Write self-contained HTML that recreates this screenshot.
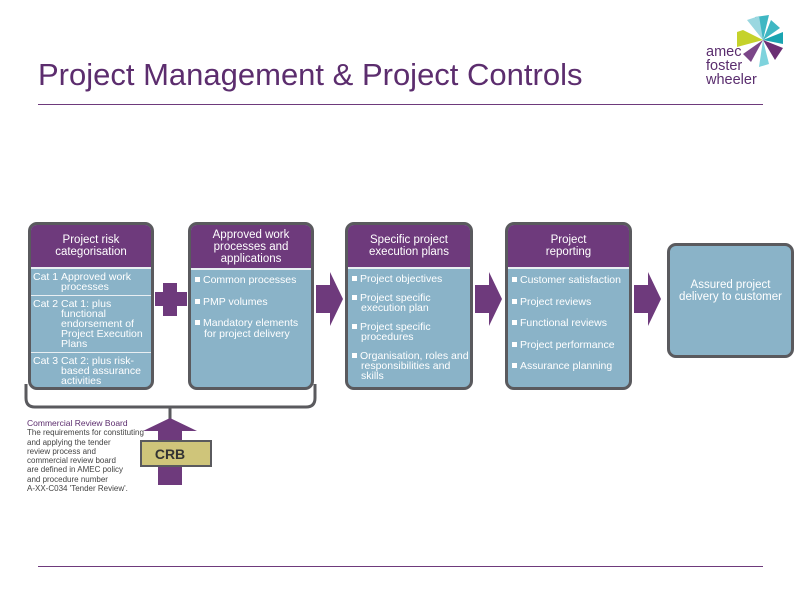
<!DOCTYPE html>
<html><head><style>
body{margin:0;width:800px;height:600px;background:#fff;position:relative;overflow:hidden;font-family:"Liberation Sans",sans-serif}
.t{position:absolute;left:38px;top:57px;font-size:31px;color:#5c2d6e;letter-spacing:0px}
.box{position:absolute;border:3px solid #5a5a5e;border-radius:9px;background:#8ab3c8;overflow:hidden;box-sizing:border-box;color:#fff}
.hd{background:#6e3a7c;color:#fff;text-align:center;font-size:11.5px;line-height:12px;border-bottom:2px solid #e8eef2;box-sizing:border-box;display:flex;align-items:center;justify-content:center}
.li{font-size:10.5px;line-height:10.5px;padding-left:4px;margin-top:0}
.li p{margin:0 0 11px 0;padding-left:9px;text-indent:-9px}
.li p:before{content:"";display:inline-block;width:5px;height:5px;background:#fff;margin-right:3px;vertical-align:1px}
.cat{display:flex;font-size:10.5px;line-height:10px;border-bottom:1px solid #e8eef2;padding:3px 2px}
.cat b{font-weight:normal;width:28px;flex:none}
</style></head><body>
<div class="t">Project Management &amp; Project Controls</div>
<div style="position:absolute;left:38px;top:104px;width:725px;height:1px;background:#6e3a7c"></div>
<div style="position:absolute;left:38px;top:566px;width:725px;height:1px;background:#6e3a7c"></div>
<svg style="position:absolute;left:725px;top:12px" width="60" height="60" viewBox="0 0 60 60">
<polygon points="38,28 18,18 12,20 12,35" fill="#c5d22b"/>
<polygon points="38,28 30,5 44,3" fill="#3fb7c3"/>
<polygon points="38,28 46,8 55,16" fill="#3fb7c3"/>
<polygon points="38,28 58,20 58,32" fill="#1aa4b1"/>
<polygon points="38,28 58,36 50,48" fill="#6b2f73"/>
<polygon points="38,28 44,52 34,55" fill="#7fd3dd"/>
<polygon points="38,28 26,50 18,42" fill="#7b4688"/>
<polygon points="38,28 22,8 34,4" fill="#9ad7e0"/>
</svg>
<div style="position:absolute;left:706px;top:45px;font-size:14.5px;line-height:14px;color:#5a2d6e">amec<br>foster<br>wheeler</div>

<div class="box" style="left:28px;top:222px;width:126px;height:168px">
<div class="hd" style="height:44px">Project risk<br>categorisation</div>
<div class="cat"><b>Cat 1</b><span>Approved work processes</span></div>
<div class="cat"><b>Cat 2</b><span>Cat 1: plus functional endorsement of Project Execution Plans</span></div>
<div class="cat" style="border:none"><b>Cat 3</b><span>Cat 2: plus risk-based assurance activities</span></div>
</div>
<div class="box" style="left:188px;top:222px;width:126px;height:168px">
<div class="hd" style="height:45px">Approved work<br>processes and<br>applications</div>
<div class="li" style="margin-top:5px"><p>Common processes</p><p>PMP volumes</p><p>Mandatory elements for project delivery</p></div>
</div>
<div class="box" style="left:345px;top:222px;width:128px;height:168px">
<div class="hd" style="height:44px">Specific project<br>execution plans</div>
<div class="li" style="margin-top:5px;line-height:10px"><p style="margin-bottom:9px">Project objectives</p><p style="margin-bottom:9px">Project specific execution plan</p><p style="margin-bottom:9px">Project specific procedures</p><p>Organisation, roles and responsibilities and skills</p></div>
</div>
<div class="box" style="left:505px;top:222px;width:127px;height:168px">
<div class="hd" style="height:44px">Project<br>reporting</div>
<div class="li" style="margin-top:6px"><p>Customer satisfaction</p><p>Project reviews</p><p>Functional reviews</p><p>Project performance</p><p>Assurance planning</p></div>
</div>
<div class="box" style="left:667px;top:243px;width:127px;height:115px;text-align:center;font-size:11.5px;line-height:12px;padding-top:33px">Assured project<br>delivery to customer</div>

<svg style="position:absolute;left:0;top:0" width="800" height="600">
<polygon points="163,283 177,283 177,292 187,292 187,306 177,306 177,316 163,316 163,306 155,306 155,292 163,292" fill="#6e3a7c"/>
<polygon points="316,285 330,285 330,272 343,299 330,326 330,313 316,313" fill="#6e3a7c"/>
<polygon points="475,285 489,285 489,272 502,299 489,326 489,313 475,313" fill="#6e3a7c"/>
<polygon points="634,285 648,285 648,272 661,299 648,326 648,313 634,313" fill="#6e3a7c"/>
<path d="M26,384 L26,398 Q26,407 35,407 L306,407 Q315,407 315,398 L315,384" fill="none" stroke="#5a5a5e" stroke-width="3"/>
<line x1="170" y1="407" x2="170" y2="419" stroke="#5a5a5e" stroke-width="3"/>
<polygon points="170,418 197,431 182,431 182,485 158,485 158,431 143,431" fill="#6e3a7c"/>
<rect x="141" y="441" width="70" height="25" fill="#cfc57a" stroke="#5a5a5e" stroke-width="2"/>
<text x="170" y="459" text-anchor="middle" font-family="Liberation Sans" font-weight="bold" font-size="14" fill="#333">CRB</text>
</svg>
<div style="position:absolute;left:27px;top:419px;font-size:8px;line-height:9.3px;color:#444;width:125px"><span style="color:#5c2d6e;font-size:8.5px">Commercial Review Board</span><br>The requirements for constituting and applying the tender<br>review process and<br>commercial review board<br>are defined in AMEC policy<br>and procedure number<br>A-XX-C034 'Tender Review'.</div>
</body></html>
